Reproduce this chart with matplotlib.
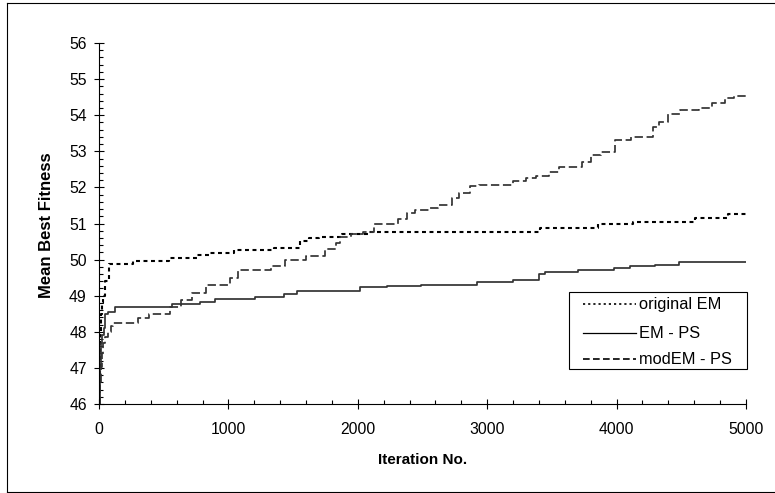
import matplotlib
matplotlib.use("Agg")
import matplotlib.pyplot as plt
from matplotlib.lines import Line2D
from matplotlib.patches import Rectangle
from matplotlib.ticker import MultipleLocator

plt.rcParams['font.family'] = ['Liberation Sans', 'DejaVu Sans']

# ---- data ----
orig_iter = [0, 3, 6, 10, 15, 20, 28, 46, 77, 260, 540, 760, 860, 1040, 1355,
             1550, 1620, 1700, 1880, 2080, 3408, 3856, 4127, 4606, 4861, 5000]
orig_val = [46.0, 46.6, 47.3, 47.9, 48.5, 48.8, 49.0, 49.4, 49.87, 49.95, 50.05,
            50.12, 50.19, 50.27, 50.33, 50.52, 50.59, 50.63, 50.70, 50.76, 50.87,
            51.0, 51.05, 51.16, 51.25, 51.25]

emps_iter = [0, 4, 8, 12, 18, 25, 35, 46, 70, 124, 565, 780, 900, 1205, 1430, 1530,
             2017, 2222, 2490, 2920, 3200, 3400, 3450, 3700, 3980, 4100, 4300, 4480, 5000]
emps_val = [46.0, 46.5, 47.0, 47.4, 47.7, 47.9, 48.1, 48.5, 48.56, 48.68, 48.78,
            48.83, 48.91, 48.97, 49.05, 49.14, 49.23, 49.27, 49.30, 49.39, 49.43,
            49.60, 49.66, 49.70, 49.78, 49.82, 49.86, 49.92, 49.93]

mod_iter = [0, 8, 15, 22, 31, 50, 70, 90, 110, 300, 390, 550, 630, 720, 830, 1010,
            1075, 1330, 1437, 1600, 1750, 1830, 1860, 1950, 2040, 2125, 2310, 2380,
            2440, 2550, 2620, 2730, 2780, 2870, 2940, 3200, 3300, 3380, 3480, 3555,
            3730, 3800, 3880, 3990, 4110, 4280, 4330, 4400, 4490, 4640, 4740, 4840,
            4910, 5000]
mod_val = [46.0, 46.6, 47.03, 47.4, 47.69, 47.85, 48.0, 48.15, 48.24, 48.38, 48.5,
           48.70, 48.88, 49.07, 49.30, 49.48, 49.71, 49.83, 49.99, 50.10, 50.28,
           50.45, 50.63, 50.71, 50.77, 51.0, 51.12, 51.28, 51.37, 51.42, 51.51,
           51.70, 51.84, 52.04, 52.07, 52.19, 52.25, 52.32, 52.44, 52.57, 52.71,
           52.90, 52.99, 53.31, 53.40, 53.68, 53.82, 54.03, 54.14, 54.19, 54.35,
           54.47, 54.54, 54.54]

series_labels = ["original EM", "EM - PS", "modEM - PS"]
x_ticks = [0, 1000, 2000, 3000, 4000, 5000]
y_ticks = [46, 47, 48, 49, 50, 51, 52, 53, 54, 55, 56]

W, H = 775, 493
fig = plt.figure(figsize=(W / 100, H / 100), dpi=100)
ax = fig.add_axes([99 / W, 1 - 404 / H, (746 - 99) / W, (404 - 43) / H])

ax.plot(orig_iter, orig_val, drawstyle='steps-post', color='black', lw=1.5,
        dashes=(1.9, 1.7))
ax.plot(emps_iter, emps_val, drawstyle='steps-post', color='#333333', lw=1.25)
ax.plot(mod_iter, mod_val, drawstyle='steps-post', color='#333333', lw=1.25,
        dashes=(4.8, 2.1))

ax.set_xlim(0, 5000)
ax.set_ylim(46, 56)
ax.set_xticks(x_ticks)
ax.set_yticks(y_ticks)
ax.xaxis.set_minor_locator(MultipleLocator(200))
ax.yaxis.set_minor_locator(MultipleLocator(0.2))
for s in ['top', 'right']:
    ax.spines[s].set_visible(False)
for s in ['left', 'bottom']:
    ax.spines[s].set_linewidth(0.8)
    ax.spines[s].set_color('black')
ax.tick_params(which='major', direction='inout', length=7.5, width=0.8,
               labelsize=11.3, colors='black')
ax.tick_params(axis='y', which='major', pad=5.0)
ax.tick_params(axis='x', which='major', pad=9.5)
ax.tick_params(which='minor', direction='in', length=3.2, width=0.8, colors='black')

fig.text(422.5 / W, 1 - 460 / H, "Iteration No.", ha='center', va='center',
         fontsize=11, fontweight='bold')
fig.text(47 / W, 1 - 225 / H, "Mean Best Fitness", ha='center', va='center',
         rotation=90, fontsize=12, fontweight='bold')

# manual legend (pixel coordinates)
def px(x, y):
    return (x / W, 1 - y / H)

lx0, ly0, lx1, ly1 = 569, 292, 747, 369
fig.add_artist(Rectangle(px(lx0, ly1), (lx1 - lx0) / W, (ly1 - ly0) / H,
                         transform=fig.transFigure, facecolor='white',
                         edgecolor='black', lw=0.8, zorder=5))
rows = [304, 333, 359]
styles = [dict(color='black', lw=1.2, dashes=(1.3, 1.8)),
          dict(color='black', lw=0.9),
          dict(color='black', lw=1.2, dashes=(4.0, 2.0))]
for yy, lab, st in zip(rows, series_labels, styles):
    (xa, ya), (xb, yb) = px(583, yy), px(636, yy)
    fig.add_artist(Line2D([xa, xb], [ya, yb], transform=fig.transFigure,
                          zorder=6, **st))
    fig.text(639 / W, 1 - yy / H, lab, ha='left', va='center', fontsize=11.8,
             zorder=6)

# outer chart frame
for (xa, ya, xb, yb) in [(7, 3, 7, 491.5), (7, 3, 780, 3), (7, 491.5, 780, 491.5)]:
    (p, q), (r, s2) = px(xa, ya), px(xb, yb)
    fig.add_artist(Line2D([p, r], [q, s2], transform=fig.transFigure,
                          color='black', lw=0.8))

fig.savefig("out.png", dpi=100)
